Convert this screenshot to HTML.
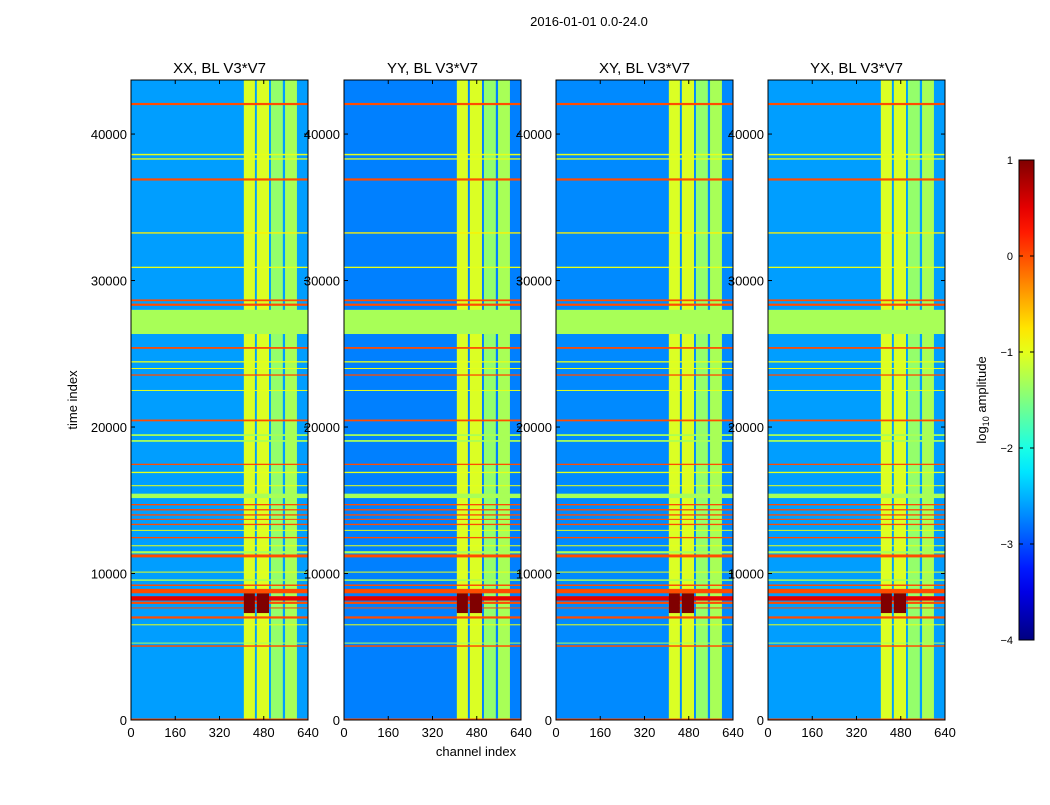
<!DOCTYPE html>
<html><head><meta charset="utf-8">
<style>
body{margin:0;background:#fff;font-family:"Liberation Sans",sans-serif;}
svg text{font-family:"Liberation Sans",sans-serif;fill:#000;}
</style></head>
<body>
<svg id="fig" width="1050" height="800" viewBox="0 0 1050 800" xmlns="http://www.w3.org/2000/svg">
<rect width="1050" height="800" fill="#fff"/>
<text x="589" y="26" font-size="13" text-anchor="middle">2016-01-01 0.0-24.0</text>
<text x="0" y="0" font-size="13" text-anchor="middle" transform="translate(77,400) rotate(-90)">time index</text>
<text x="476" y="756" font-size="13" text-anchor="middle">channel index</text>
<g id="panels"></g>
<g id="cbar"></g>
</svg>
<script>
const panelTitles = ["XX, BL V3*V7","YY, BL V3*V7","XY, BL V3*V7","YX, BL V3*V7"];
const panelBackground = [-2.6, -2.75, -2.7, -2.6];
const xTicks = [0,160,320,480,640];
const yTicks = [0,10000,20000,30000,40000];
const vbandStart = [408,455,506,557];
const vbandEnd   = [448,499,549,600];
const vbandLevel = [-1.05,-1.05,-1.4,-1.3];
const hlineTime  = [42050,38600,38300,36900,33250,30900,28650,28350,27175,25400,24450,24000,23550,22500,20450,19450,19050,17450,16900,16000,15300,14700,14350,14000,13700,13350,12950,12450,11900,11450,11200,10100,9550,9200,8800,8300,8000,7650,7000,6500,5250,5050,60];
const hlineWidth = [150,100,90,150,90,90,120,150,1650,120,90,60,90,60,120,120,120,90,90,60,300,90,90,90,60,90,60,90,60,150,200,60,100,100,300,300,150,70,150,70,70,100,80];
const hlineLevel = [0,-1,-1,0,-0.8,-1,0,0,-1.3,0,-1,-1,0,-1,0,-1.3,-1.3,0,-1,-1,-1.3,0,0,0,0,0,-1,0,-1,-1.3,0,-1,-1.3,0,0,0.5,0,0,0,-1,-1.3,0,0];
const hotStart = [408,455];
const hotEnd   = [448,499];
const hotT0 = 7300, hotT1 = 8650, hotLevel = 1;
const cbTicks = [1,0,-1,-2,-3,-4];

const VMIN=-4, VMAX=1, TMAX=43690, CMAX=640;
const panelX=[131,344,556,768], PW=177, PY0=80, PY1=720;
function jet(v){const x=Math.max(0,Math.min(1,(v-VMIN)/(VMAX-VMIN)));
 const c=t=>Math.round(255*Math.max(0,Math.min(1,1.5-Math.abs(4*x-t))));
 return `rgb(${c(3)},${c(2)},${c(1)})`;}
const yS=t=>PY1-(t/TMAX)*(PY1-PY0);
const NS="http://www.w3.org/2000/svg";
function el(tag,attrs,parent){const e=document.createElementNS(NS,tag);for(const k in attrs)e.setAttribute(k,attrs[k]);parent.appendChild(e);return e;}
const root=document.getElementById('panels');
panelTitles.forEach((title,p)=>{
 const x0=panelX[p]; const xS=c=>x0+(c/CMAX)*PW;
 const g=el('g',{},root);
 
 
 const bg=el('rect',{x:x0,y:PY0,width:PW,height:PY1-PY0,fill:jet(panelBackground[p])},g);
 
 
 vbandStart.forEach((s,i)=>{
  const r=el('rect',{x:xS(s),y:PY0,width:xS(vbandEnd[i])-xS(s),height:PY1-PY0,fill:jet(vbandLevel[i])},g);
  
  
 });
 hlineTime.forEach((t,i)=>{
  const y0=yS(t+hlineWidth[i]/2), y1=yS(t-hlineWidth[i]/2);
  const r=el('rect',{x:x0,y:y0,width:PW,height:Math.max(1,y1-y0),fill:jet(hlineLevel[i])},g);
  
  
 });
 hotStart.forEach((s,i)=>{
  const r=el('rect',{x:xS(s),y:yS(hotT1),width:xS(hotEnd[i])-xS(s),height:yS(hotT0)-yS(hotT1),fill:jet(hotLevel)},g);
  
  
 });
 const fr=el('rect',{x:x0,y:PY0,width:PW,height:PY1-PY0,fill:'none',stroke:'#000','stroke-width':1},g);
 
 
 const tt=el('text',{x:x0+PW/2,y:73,'font-size':15,'text-anchor':'middle'},g);tt.textContent=title;
 
 
 xTicks.forEach(c=>{
  el('line',{x1:xS(c),x2:xS(c),y1:PY1,y2:PY1-4,stroke:'#000'},g);
  el('line',{x1:xS(c),x2:xS(c),y1:PY0,y2:PY0+4,stroke:'#000'},g);
  const t=el('text',{x:xS(c),y:737,'font-size':13,'text-anchor':'middle'},g);t.textContent=c;
  
  
 });
 yTicks.forEach(v=>{
  el('line',{x1:x0,x2:x0+4,y1:yS(v),y2:yS(v),stroke:'#000'},g);
  el('line',{x1:x0+PW,x2:x0+PW-4,y1:yS(v),y2:yS(v),stroke:'#000'},g);
  const t=el('text',{x:x0-4,y:yS(v)+5,'font-size':13,'text-anchor':'end'},g);t.textContent=v;
  
  
 });
});
const cb=document.getElementById('cbar');


const CBX=1019,CBW=15,CBY0=160,CBY1=640;
const cy=v=>CBY1-(v-VMIN)/(VMAX-VMIN)*(CBY1-CBY0);
const defs=el('defs',{},cb);const lg=el('linearGradient',{id:'jg',x1:0,y1:1,x2:0,y2:0},defs);
for(let i=0;i<=20;i++){el('stop',{offset:i/20,'stop-color':jet(VMIN+(VMAX-VMIN)*i/20)},lg);}
el('rect',{x:CBX,y:CBY0,width:CBW,height:CBY1-CBY0,fill:'url(#jg)',stroke:'#000'},cb);
cbTicks.forEach(v=>{
 el('line',{x1:CBX,x2:CBX+4,y1:cy(v),y2:cy(v),stroke:'#000'},cb);
 el('line',{x1:CBX+CBW,x2:CBX+CBW-4,y1:cy(v),y2:cy(v),stroke:'#000'},cb);
 const t=el('text',{x:1013,y:cy(v)+4,'font-size':11,'text-anchor':'end'},cb);t.textContent=(v<0?'\u2212'+(-v):v);
 
 
});
const cl=el('text',{x:0,y:0,'font-size':13,'text-anchor':'middle',transform:'translate(986,400) rotate(-90)'},cb);
cl.innerHTML='log<tspan font-size="9" dy="3">10</tspan><tspan dy="-3"> amplitude</tspan>';


</script>
</body></html>
